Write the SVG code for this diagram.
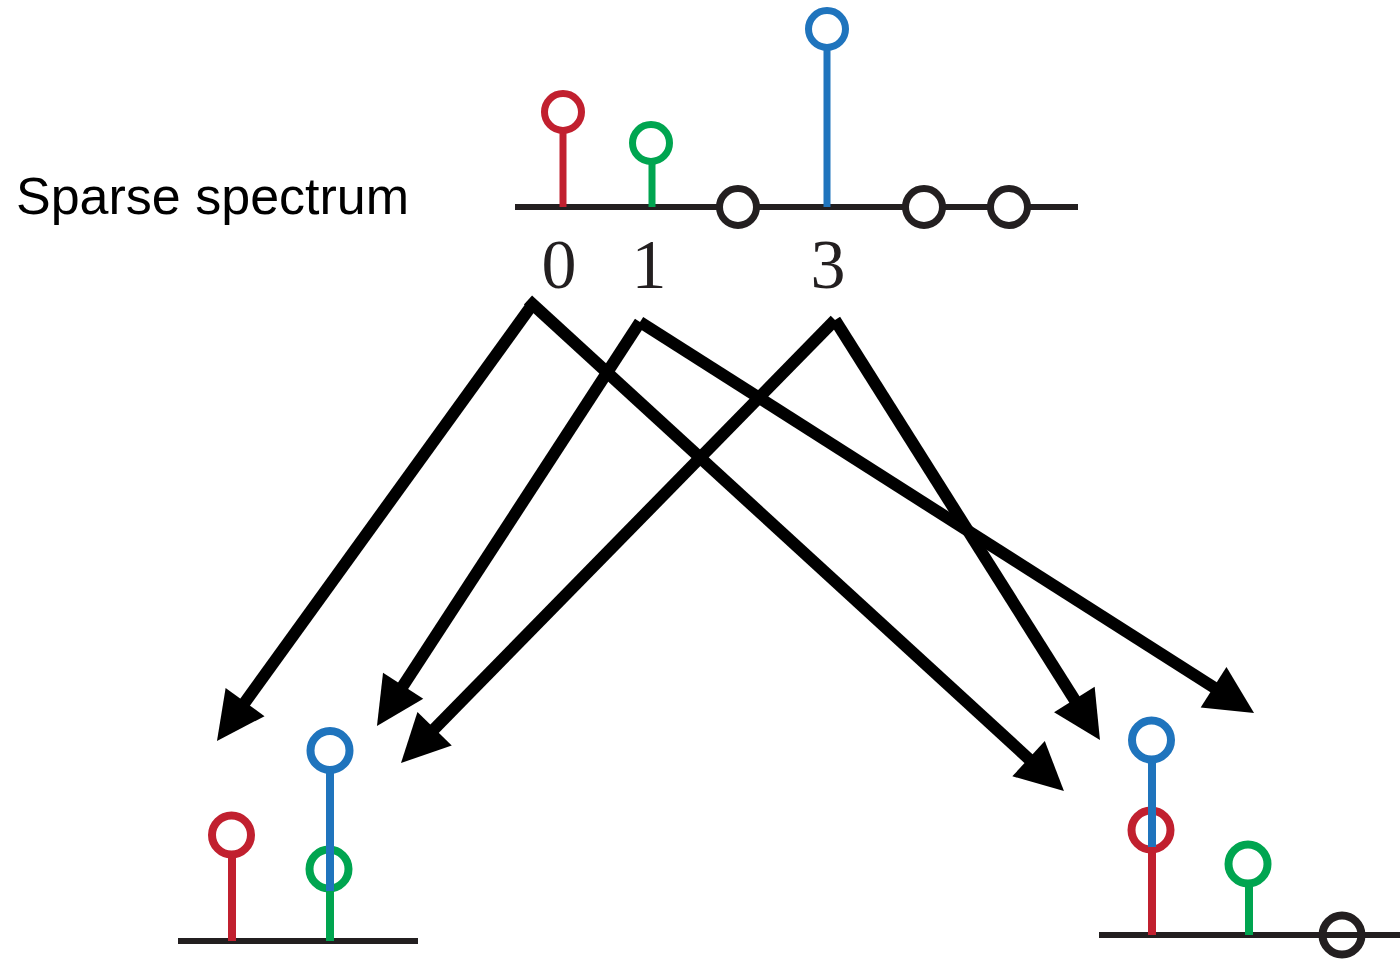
<svg xmlns="http://www.w3.org/2000/svg" width="1400" height="960" viewBox="0 0 1400 960">
  <style>
    .axis { stroke: #231F20; stroke-width: 6; fill: none; }
    .stem { stroke-width: 7; fill: none; }
    .stem-b { stroke-width: 8; fill: none; }
    .ring { fill: #FFFFFF; stroke-width: 7; }
    .ring-b { fill: none; stroke-width: 8; }
    .red { stroke: #C1202F; }
    .green { stroke: #00A550; }
    .blue { stroke: #1F74BD; }
    .black { stroke: #231F20; }
    .idx { font-family: "Liberation Serif", "DejaVu Serif", serif; font-size: 70px; fill: #231F20; text-anchor: middle; }
    .title { font-family: "Liberation Sans", Arial, sans-serif; font-size: 52px; fill: #000000; }
    .arrow { stroke: #000000; stroke-width: 12; fill: none; marker-end: url(#head); }
  </style>
  <defs>
    <marker id="head" markerUnits="userSpaceOnUse" viewBox="-2 -26 52 52" markerWidth="52" markerHeight="52" refX="0" refY="0" orient="auto" overflow="visible">
      <path d="M-1,-24 L47,0 L-1,24 Z" fill="#000000"/>
    </marker>
  </defs>

  <!-- Label -->
  <g id="label">
    <text class="title" x="16" y="214">Sparse spectrum</text>
  </g>

  <!-- Sparse spectrum on top -->
  <g id="spectrum">
    <line class="axis" x1="515" y1="207" x2="1078" y2="207"/>
    <line class="stem red" x1="563" y1="132" x2="563" y2="207"/>
    <circle class="ring red" cx="563" cy="112" r="18.5"/>
    <line class="stem green" x1="652" y1="163" x2="652" y2="207"/>
    <circle class="ring green" cx="651" cy="143" r="18.5"/>
    <line class="stem blue" x1="827" y1="49" x2="827" y2="207"/>
    <circle class="ring blue" cx="827" cy="29" r="18.5"/>
    <circle class="ring black" cx="738" cy="207" r="18.5"/>
    <circle class="ring black" cx="924" cy="207" r="18.5"/>
    <circle class="ring black" cx="1009" cy="207" r="18.5"/>
    <text class="idx" x="559" y="288">0</text>
    <text class="idx" x="649" y="288">1</text>
    <text class="idx" x="828" y="288">3</text>
  </g>

  <!-- Connectors -->
  <g id="connectors">
    <line class="arrow" x1="532" y1="305" x2="244.5" y2="702.9"/>
    <line class="arrow" x1="528" y1="300" x2="1029.3" y2="759.3"/>
    <line class="arrow" x1="640" y1="322" x2="402.6" y2="686.6"/>
    <line class="arrow" x1="640" y1="322" x2="1214.4" y2="687.8"/>
    <line class="arrow" x1="835" y1="320" x2="433.9" y2="729.4"/>
    <line class="arrow" x1="835" y1="320" x2="1074.9" y2="700.3"/>
  </g>

  <!-- Bottom-left bucket -->
  <g id="bucket-left">
    <line class="axis" x1="178" y1="941" x2="418" y2="941"/>
    <line class="stem-b red" x1="232" y1="858" x2="232" y2="941"/>
    <circle class="ring-b red" cx="231.5" cy="835" r="19.5"/>
    <line class="stem-b green" x1="330" y1="888" x2="330" y2="941"/>
    <circle class="ring-b green" cx="329" cy="869" r="19.5"/>
    <line class="stem-b blue" x1="330" y1="773" x2="330" y2="891"/>
    <circle class="ring-b blue" cx="330" cy="750.5" r="19.5"/>
  </g>

  <!-- Bottom-right bucket -->
  <g id="bucket-right">
    <line class="axis" x1="1099" y1="935" x2="1400" y2="935"/>
    <line class="stem-b red" x1="1152" y1="846" x2="1152" y2="935"/>
    <circle class="ring-b red" cx="1151" cy="830" r="19.5"/>
    <line class="stem-b blue" x1="1152" y1="762" x2="1152" y2="847"/>
    <circle class="ring-b blue" cx="1151.5" cy="740" r="19.5"/>
    <line class="stem-b green" x1="1249" y1="886" x2="1249" y2="935"/>
    <circle class="ring-b green" cx="1248" cy="864" r="19.5"/>
    <circle class="ring-b black" cx="1342" cy="935" r="19.5"/>
  </g>
</svg>
